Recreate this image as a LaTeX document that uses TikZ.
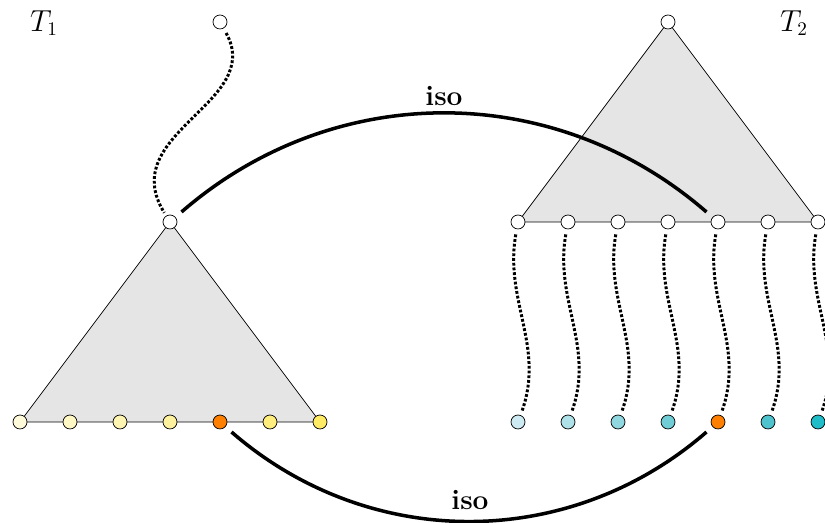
\documentclass[tikz,border=0pt]{standalone}
\usepackage{amsmath}
\usepackage{amssymb}
\definecolor{leafa}{RGB}{255,250,218}
\definecolor{leafb}{RGB}{255,247,196}
\definecolor{leafc}{RGB}{255,245,178}
\definecolor{leafd}{RGB}{255,242,158}
\definecolor{leaff}{RGB}{255,238,125}
\definecolor{leafg}{RGB}{255,236,100}
\definecolor{cyana}{RGB}{205,234,242}
\definecolor{cyanb}{RGB}{175,225,232}
\definecolor{cyanc}{RGB}{145,215,224}
\definecolor{cyand}{RGB}{112,205,214}
\definecolor{cyanf}{RGB}{78,195,206}
\definecolor{cyang}{RGB}{32,188,200}
\definecolor{hot}{RGB}{255,127,0}

\begin{document}
\begin{tikzpicture}[x=0.02cm,y=0.02cm,
  vert/.style={circle,draw,inner sep=0pt,minimum size=0.28cm,fill=white},
  hull/.style={draw,fill=gray!20},
  wig/.style={dash pattern=on 1.6pt off 1.1pt,line width=1.7pt,shorten >=2pt,shorten <=3pt},
  isoarc/.style={line width=2pt,shorten >=4.5pt,shorten <=4.5pt},
  lbl/.style={font=\fontsize{16}{19}\selectfont}]
\useasboundingbox (0,0) rectangle (825,523);
% T1
\draw [hull] (170,301) -- (20,101) -- (320,101) -- cycle;
\node [vert] (top) at (220,501) {};
\node [vert] (a) at (170,301) {};
\foreach \i/\c in {1/leafa,2/leafb,3/leafc,4/leafd,5/hot,6/leaff,7/leafg}
  \node [vert,fill=\c] (l\i) at (-30+50*\i,101) {};
\draw [wig] (top) .. controls (265,420) and (115,390) .. (a);
% T2
\draw [hull] (668,501) -- (518,301) -- (818,301) -- cycle;
\node [vert] (s) at (668,501) {};
\foreach \i in {1,...,7}
  \node [vert] (r\i) at (468+50*\i,301) {};
\foreach \i/\c in {1/cyana,2/cyanb,3/cyanc,4/cyand,5/hot,6/cyanf,7/cyang}
  \node [vert,fill=\c] (b\i) at (468+50*\i,101) {};
\foreach \i in {1,...,7}
  \draw [wig] (r\i) to[out=-100,in=70] (b\i);
% isomorphisms
\draw [isoarc] (a) to[bend left=41] (r5);
\draw [isoarc] (l5) to[bend right=41] (b5);
\node [lbl] (isoup) at (444,427) {\textbf{iso}};
\node [lbl] (isodown) at (470,23) {\textbf{iso}};
\node [lbl] (t1) at (44,500) {$T_1$};
\node [lbl] (t2) at (794,500) {$T_2$};
\end{tikzpicture}
\end{document}
